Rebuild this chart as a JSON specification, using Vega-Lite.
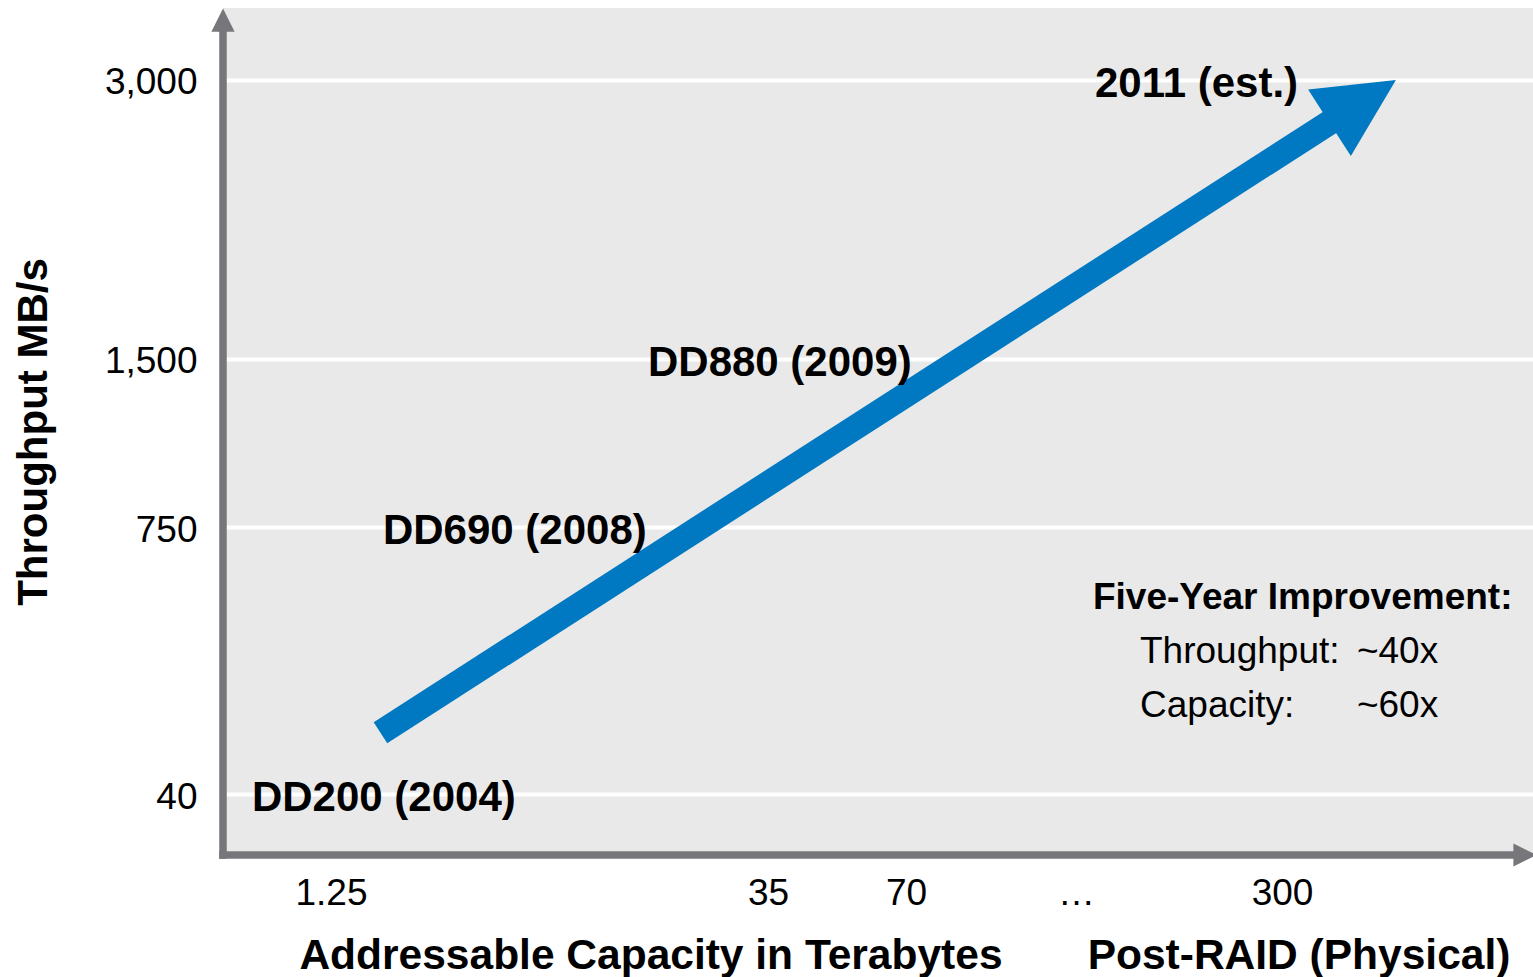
{
  "$schema": "https://vega.github.io/schema/vega-lite/v6.json",
  "width": 1310,
  "height": 847,
  "autosize": {"type": "none"},
  "padding": {"left": 223, "top": 8, "right": 0, "bottom": 122},
  "background": "#ffffff",
  "config": {
    "view": {"fill": "#e9e9e9", "stroke": null},
    "font": "Liberation Sans",
    "text": {"font": "Liberation Sans"}
  },
  "datasets": {
    "axislines": [
      {"x": 0, "y": 0, "x2": 0, "y2": 97.2},
      {"x": 0, "y": 0, "x2": 98.78, "y2": 0}
    ],
    "axisheads": [
      {"x": 0, "y": 98.58, "angle": 0},
      {"x": 99.39, "y": 0, "angle": 90}
    ],
    "shaft": [
      {"x": 12.02, "y": 14.43, "x2": 84.89, "y2": 86.9}
    ],
    "head": [
      {"x": 87.0, "y": 88.98, "angle": 57.27}
    ],
    "models": [
      {"x": 2.21, "y": 7.2, "label": "DD200 (2004)"},
      {"x": 12.21, "y": 38.69, "label": "DD690 (2008)"},
      {"x": 32.44, "y": 58.56, "label": "DD880 (2009)"},
      {"x": 66.56, "y": 91.5, "label": "2011 (est.)"}
    ],
    "improveHead": [
      {"x": 66.41, "y": 30.58, "label": "Five-Year Improvement:"}
    ],
    "improveRows": [
      {"x": 70.0, "y": 24.2, "label": "Throughput:"},
      {"x": 86.56, "y": 24.2, "label": "~40x"},
      {"x": 70.0, "y": 17.83, "label": "Capacity:"},
      {"x": 86.56, "y": 17.83, "label": "~60x"}
    ],
    "xtitles": [
      {"x": 32.67, "y": -11.69, "label": "Addressable Capacity in Terabytes"},
      {"x": 82.14, "y": -11.69, "label": "Post-RAID (Physical)"}
    ]
  },
  "encoding": {
    "x": {
      "field": "x",
      "type": "quantitative",
      "scale": {"domain": [0, 100], "nice": false, "zero": false},
      "axis": {
        "title": null,
        "domain": false,
        "ticks": false,
        "tickSize": 0,
        "grid": false,
        "values": [8.24, 41.6, 52.14, 65.11, 80.84],
        "labelExpr": "datum.value == 8.24 ? '1.25' : datum.value == 41.6 ? '35' : datum.value == 52.14 ? '70' : datum.value == 65.11 ? '…' : '300'",
        "labelFont": "Liberation Sans",
        "labelFontSize": 37,
        "labelColor": "#000000",
        "labelPadding": 20,
        "labelBaseline": "top",
        "labelAlign": "center",
        "labelOverlap": false
      }
    },
    "y": {
      "field": "y",
      "type": "quantitative",
      "scale": {"domain": [0, 100], "nice": false, "zero": false},
      "axis": {
        "title": "Throughput MB/s",
        "titleFont": "Liberation Sans",
        "titleFontSize": 42,
        "titleFontWeight": "bold",
        "titleColor": "#000000",
        "titleX": -168,
        "domain": false,
        "ticks": false,
        "tickSize": 0,
        "grid": true,
        "gridColor": "#ffffff",
        "gridWidth": 4,
        "gridOpacity": 1,
        "values": [7.2, 38.69, 58.56, 91.5],
        "labelExpr": "datum.value == 91.5 ? '3,000' : datum.value == 58.56 ? '1,500' : datum.value == 38.69 ? '750' : '40'",
        "labelFont": "Liberation Sans",
        "labelFontSize": 37,
        "labelColor": "#000000",
        "labelPadding": 26,
        "labelOffset": 3,
        "labelOverlap": false
      }
    }
  },
  "layer": [
    {
      "data": {"name": "axislines"},
      "mark": {"type": "rule", "color": "#77767b", "strokeWidth": 7.5, "strokeCap": "square"},
      "encoding": {"x2": {"field": "x2"}, "y2": {"field": "y2"}}
    },
    {
      "data": {"name": "axisheads"},
      "mark": {"type": "point", "shape": "M-1,1L1,1L0,-1Z", "filled": true, "size": 540, "opacity": 1, "color": "#77767b", "strokeWidth": 0},
      "encoding": {"angle": {"field": "angle", "type": "quantitative", "scale": null}}
    },
    {
      "data": {"name": "shaft"},
      "mark": {"type": "rule", "color": "#0079c2", "strokeWidth": 25, "strokeCap": "butt"},
      "encoding": {"x2": {"field": "x2"}, "y2": {"field": "y2"}}
    },
    {
      "data": {"name": "head"},
      "mark": {"type": "point", "shape": "M-1,1L1,1L0,-1Z", "filled": true, "size": 6241, "opacity": 1, "color": "#0079c2", "strokeWidth": 0},
      "encoding": {"angle": {"field": "angle", "type": "quantitative", "scale": null}}
    },
    {
      "data": {"name": "models"},
      "mark": {"type": "text", "align": "left", "baseline": "middle", "dy": 4, "fontSize": 42, "fontWeight": "bold", "color": "#000000"},
      "encoding": {"text": {"field": "label"}}
    },
    {
      "data": {"name": "improveHead"},
      "mark": {"type": "text", "align": "left", "baseline": "middle", "dy": 2, "fontSize": 37, "fontWeight": "bold", "color": "#000000"},
      "encoding": {"text": {"field": "label"}}
    },
    {
      "data": {"name": "improveRows"},
      "mark": {"type": "text", "align": "left", "baseline": "middle", "dy": 2, "fontSize": 37, "fontWeight": "normal", "color": "#000000"},
      "encoding": {"text": {"field": "label"}}
    },
    {
      "data": {"name": "xtitles"},
      "mark": {"type": "text", "align": "center", "baseline": "middle", "dy": 2, "fontSize": 42.5, "fontWeight": "bold", "color": "#000000"},
      "encoding": {"text": {"field": "label"}}
    }
  ]
}
